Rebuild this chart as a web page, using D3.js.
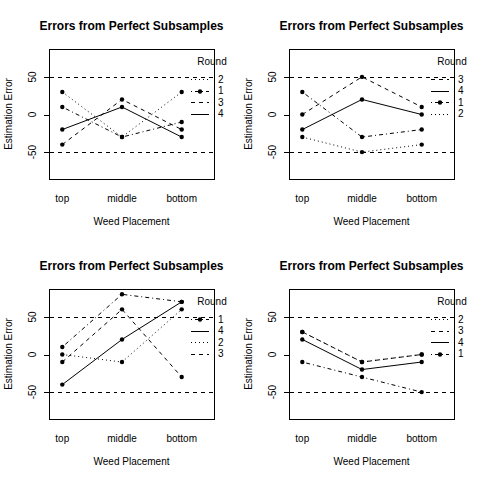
<!DOCTYPE html>
<html><head><meta charset="utf-8">
<script src="https://cdn.jsdelivr.net/npm/d3@7"></script>
<style>body{margin:0;background:#fff}svg{display:block}text{font-family:"Liberation Sans",Arial,sans-serif;fill:#000}</style>
</head><body><svg id="c" width="480" height="480"></svg>
<script>
const categories = ["top", "middle", "bottom"];
const rounds = ["1", "2", "3", "4"];
// values per round (1..4), at top / middle / bottom
const panelA = [[10, -30, -10], [30, -30, 30], [-40, 20, -20], [-20, 10, -30]];
const panelB = [[30, -30, -20], [-30, -50, -40], [0, 50, 10], [-20, 20, 0]];
const panelC = [[10, 80, 70], [0, -10, 60], [-10, 60, -30], [-40, 20, 70]];
const panelD = [[-10, -30, -50], [30, -10, 0], [30, -10, 0], [20, -20, -10]];
const panels = [panelA, panelB, panelC, panelD];
const yTicks = [-50, 0, 50];
const refLines = [-50, 50];
const titleText = "Errors from Perfect Subsamples";
const xTitle = "Weed Placement";
const yTitle = "Estimation Error";
const legendTitle = "Round";

const dash = {"1": "1,3,4,3", "2": "1,3", "3": "4,4", "4": null};
const svg = d3.select("#c");
const L = 49.5, R = 214.5, T = 49.5, B = 179.5;
const x = d3.scalePoint().domain(categories).range([62.3, 181.7]);
const y = d3.scaleLinear().domain([-86.4, 86.4]).range([B, T]);

panels.forEach((data, pi) => {
  const g = svg.append("g").attr("transform", `translate(${(pi % 2) * 240},${Math.floor(pi / 2) * 240})`);
  g.append("text").attr("x", 131.5).attr("y", 29.5).attr("text-anchor", "middle")
    .style("font-weight", "bold").style("font-size", "12px").text(titleText);
  g.append("rect").attr("x", L).attr("y", T).attr("width", R - L).attr("height", B - T)
    .attr("fill", "none").attr("stroke", "#000").attr("stroke-width", 1).attr("shape-rendering", "crispEdges");
  // y ticks
  yTicks.forEach(v => {
    g.append("line").attr("x1", L - 6).attr("x2", L).attr("y1", Math.round(y(v)) + 0.5).attr("y2", Math.round(y(v)) + 0.5)
      .attr("stroke", "#000").attr("shape-rendering", "crispEdges");
    g.append("text").attr("transform", `translate(32,${y(v)}) rotate(-90)`).attr("dy", "0.35em")
      .attr("text-anchor", "middle").style("font-size", "10px").text(v);
  });
  categories.forEach(c => {
    g.append("text").attr("x", x(c)).attr("y", 202).attr("text-anchor", "middle").style("font-size", "10px").text(c);
  });
  g.append("text").attr("x", 131.5).attr("y", 225).attr("text-anchor", "middle").style("font-size", "10px").text(xTitle);
  g.append("text").attr("transform", `translate(8,114) rotate(-90)`).attr("dy", "0.35em")
    .attr("text-anchor", "middle").style("font-size", "10px").text(yTitle);
  // reference lines
  refLines.forEach(v => {
    g.append("line").attr("x1", L).attr("x2", R).attr("y1", Math.round(y(v)) + 0.5).attr("y2", Math.round(y(v)) + 0.5)
      .attr("stroke", "#000").attr("stroke-dasharray", "4,4").attr("shape-rendering", "crispEdges");
  });
  const line = d3.line().x((d, i) => x(categories[i])).y(d => y(d));
  data.forEach((vals, ri) => {
    g.append("path").attr("d", line(vals)).attr("fill", "none").attr("stroke", "#000").attr("stroke-width", 1)
      .attr("stroke-dasharray", dash[rounds[ri]]);
    vals.forEach((v, i) => {
      g.append("circle").attr("cx", x(categories[i])).attr("cy", y(v)).attr("r", 2.2).attr("fill", "#000");
    });
  });
  // legend: sorted by last value, decreasing (stable)
  const order = d3.range(rounds.length).sort((a, b) => (data[b][2] - data[a][2]) || (a - b));
  g.append("text").attr("x", 212).attr("y", 64.5).attr("text-anchor", "middle").style("font-size", "10px").text(legendTitle);
  order.forEach((ri, k) => {
    const yy = 79 + k * 11.5;
    g.append("line").attr("x1", 191).attr("x2", 209).attr("y1", Math.round(yy) + 0.5).attr("y2", Math.round(yy) + 0.5)
      .attr("stroke", "#000").attr("stroke-dasharray", dash[rounds[ri]]).attr("shape-rendering", "crispEdges");
    if (rounds[ri] === "1") g.append("circle").attr("cx", 200).attr("cy", Math.round(yy) + 0.5).attr("r", 2.2).attr("fill", "#000");
    g.append("text").attr("x", 218).attr("y", yy).attr("dy", "0.35em").style("font-size", "10px").text(rounds[ri]);
  });
});
</script></body></html>
